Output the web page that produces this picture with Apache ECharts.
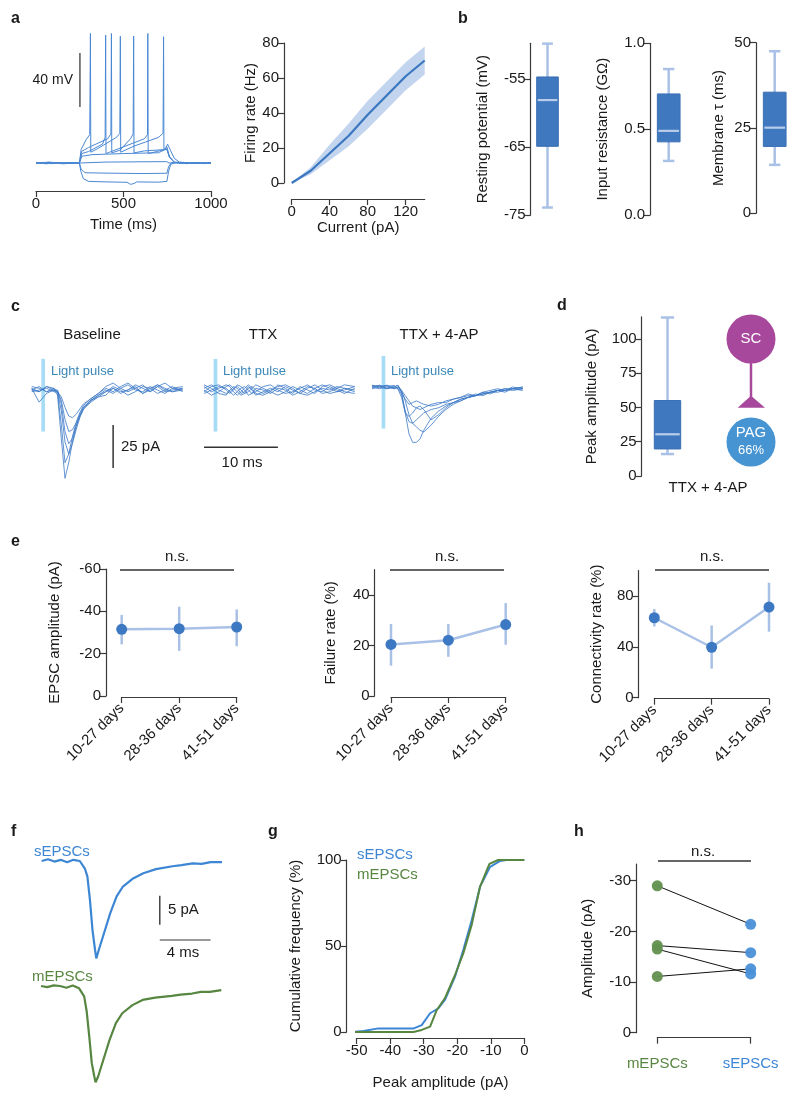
<!DOCTYPE html>
<html>
<head>
<meta charset="utf-8">
<script src="https://cdn.jsdelivr.net/npm/echarts@6/dist/echarts.min.js"></script>
<style>
  html, body { margin: 0; background: #fff; }
  #chart { width: 800px; height: 1105px; }
</style>
</head>
<body>
<div id="chart"></div>
<script>
// ---- panel a: example voltage traces [ms, mV]
const aTraceHyper2 = [[0,-64.6],[50,-65.4],[100,-64.5],[150,-65.6],[200,-64.8],[248,-65.2],[256,-71],[270,-76.5],[300,-78.6],[400,-79],[520,-79.3],[540,-80.8],[560,-80.2],[575,-79],[700,-79.2],[748,-78.6],[758,-71],[770,-66],[800,-64.6],[860,-65.5],[920,-64.7],[980,-65.4],[1000,-64.8]]
const aTraceHyper1 = [[0,-65.3],[40,-64.5],[90,-65.5],[140,-64.7],[190,-65.3],[248,-64.9],[258,-69.5],[280,-72.2],[400,-72.5],[600,-72.8],[748,-72.6],[758,-67.5],[775,-64.6],[830,-65.4],[900,-64.6],[960,-65.5],[1000,-64.9]]
const aTraceSub1 = [[0,-64.8],[60,-65.6],[110,-64.6],[170,-65.4],[248,-65],[258,-64],[400,-64.3],[600,-64.1],[748,-64],[760,-65],[840,-64.5],[910,-65.4],[1000,-65]]
const aTraceSub2 = [[0,-65.2],[70,-64.4],[130,-65.3],[200,-64.6],[248,-65],[262,-60],[320,-58.8],[500,-58],[700,-57.4],[738,-55],[752,-51],[768,-55.5],[790,-61.5],[820,-64.4],[900,-65.2],[1000,-64.7]]
const aTraceSpike1 = [[0,-65],[80,-64.4],[160,-65.5],[248,-65],[262,-58],[300,-56.5],[380,-51],[395,-46],[398,29.8],[400,-58],[420,-57],[520,-52],[620,-47],[637,-44],[639,31],[641,-58],[690,-56.5],[748,-54.5],[762,-60.5],[790,-64.3],[880,-65.4],[1000,-65]]
const aTraceSpike2 = [[0,-65.4],[90,-64.6],[170,-65.3],[248,-65],[258,-55],[285,-48],[307,-44],[311,31],[313,-57],[350,-54.5],[460,-46],[479,-43],[482,28.9],[484,-57],[560,-52.5],[700,-46],[726,-43],[729,28.6],[731,-55],[748,-53],[762,-60],[790,-64.5],[870,-64.7],[1000,-65.2]]
const aTraceSpike3 = [[0,-64.7],[100,-65.4],[190,-64.6],[248,-65],[260,-56.5],[300,-53.5],[410,-47],[428,-43.5],[431,31],[433,-57.5],[480,-55.5],[540,-47],[555,-43.5],[558,29.1],[560,-57.5],[620,-56],[748,-55],[762,-60.5],[790,-64.6],[900,-65.3],[1000,-64.8]]
const aScaleBar = [[251, 16.5], [251, -23.5]] // 40 mV

// panel a: firing rate vs current
const fiCurrent = [0, 20, 40, 60, 80, 100, 120, 140]
const fiMean = [0, 7, 17, 27, 39, 50, 61, 70]
const fiLow = [0, 5, 13, 21, 31, 42, 53, 62]
const fiHigh = [0, 9, 22, 34, 47, 58, 69, 78]

// panel b / d: [min, q1, median, q3, max]
const restingBox = [-73.9, -64.9, -58.1, -54.7, -49.8]
const inputResBox = [0.315, 0.426, 0.49, 0.705, 0.85]
const tauBox = [14.2, 19.6, 25.1, 35.5, 47.5]
const peakBox = [16, 19.7, 30.4, 55, 115.5]

// panel c: sweeps, pA, sampled at cTimes (ms)
const cTimes = [0, 1, 2, 3, 3.5, 4, 4.5, 5, 5.5, 6, 6.5, 7, 8, 9, 10, 11, 12, 13, 14, 15, 16, 17, 18, 19, 20.4]
const cBaseline = [
  [1, -1, 2, 0, -3, -28, -51, -42, -30, -21, -15, -11, -6, -3, -1, 1, -2, 0, 3, 1, -1, 2, -1, 0, 1],
  [0, 2, -1, 1, -2, -20, -42, -37, -27, -19, -13, -9, -5, -2, 1, -1, 2, 4, 1, -2, 0, 3, 1, -1, 0],
  [-1, 0, 1, -1, -1, -12, -30, -37, -31, -23, -16, -11, -7, -4, -1, 2, 0, -3, -1, 2, 1, -2, 0, 2, -1],
  [2, 1, -1, 0, 0, -8, -24, -31, -28, -21, -15, -10, -6, -3, 0, -2, 1, 3, 0, -1, 2, 0, -2, 1, 0],
  [0, -1, 2, 1, -1, -6, -17, -24, -23, -19, -14, -10, -6, -4, -3, 1, -1, 0, 2, -2, 1, 3, 0, -1, 1],
  [1, -7, -2, 0, -1, -4, -10, -15, -16, -14, -11, -8, -5, -2, 2, 4, 1, -1, 1, 3, -1, 2, 4, 1, 2]
]
const cTTX = [
  [1, 3, 0, -2, -1, 1, 2, 0, -2, -1, 1, 3, 1, -1, -3, -1, 2, 0, -2, 1, 3, 1, -1, 0, 2],
  [-2, 0, 2, 1, -1, -3, -1, 1, 2, 0, -2, -1, 2, 3, 0, -2, -1, 1, 3, 0, -1, 2, 0, -2, 1],
  [0, -3, -1, 2, 3, 1, -1, -3, -2, 1, 2, 0, -2, 0, 2, 3, 1, -2, -3, -1, 1, 0, 2, 1, -1],
  [3, 1, -2, -3, 0, 2, 1, -2, -1, 2, 0, -3, -1, 1, -1, 2, 0, -2, 1, 3, 0, -2, -1, 1, 0],
  [-1, 2, 3, 0, -2, 0, 3, 2, 0, -3, -2, 1, 0, -2, 1, 0, -3, -1, 2, 1, -2, -1, 1, 3, 2],
  [2, -1, 1, 3, 2, -1, -3, -1, 1, 3, 1, -2, -3, -1, 3, 1, -2, 2, 0, -2, 2, 3, 1, -1, -2]
]
const c4AP = [
  [0, 1, -1, 0, 1, -3, -15, -27, -32, -32, -30, -25, -18, -14, -11, -9, -7, -6, -4, -5, -3, -2, -3, -1, -2],
  [1, 0, 1, -1, 0, -2, -8, -16, -21, -23, -25, -26, -22, -17, -13, -10, -8, -6, -5, -3, -4, -2, -1, -2, -1],
  [0, -1, 0, 1, -1, -4, -14, -20, -21, -19, -17, -15, -13, -12, -10, -9, -8, -6, -5, -4, -3, -3, -2, -1, -1],
  [-1, 0, 1, 0, -1, -6, -15, -17, -15, -12, -11, -13, -19, -16, -12, -9, -7, -6, -5, -4, -3, -2, -2, -1, 0],
  [0, 1, 0, -1, 0, -3, -7, -10, -9, -8, -9, -10, -11, -10, -8, -7, -6, -5, -5, -4, -3, -2, -1, -1, 0],
  [1, 0, -1, 0, 1, -2, -5, -8, -11, -12, -13, -12, -10, -9, -9, -7, -6, -4, -5, -3, -2, -1, -2, 0, -1]
]
const cPulse = [1.3, 1.8, 18, -24] // t start, t end, top, bottom
const cAmpBar = [[11, -20.2], [11, -45.1]] // 25 pA
const cTimeBar = [[0, -33.1], [10, -33.1]] // 10 ms

// panel e
const ageGroups = ['10-27 days', '28-36 days', '41-51 days']
const epscMean = [-31.5, -31.8, -32.6]
const epscLow = [-24.4, -21.3, -23.5]
const epscHigh = [-38.3, -42.2, -40.9]
const failMean = [20.4, 22.1, 28.3]
const failLow = [12, 15.5, 20.3]
const failHigh = [28.5, 28.5, 36.8]
const connMean = [62.9, 39.7, 71.3]
const connLow = [56, 22.9, 52]
const connHigh = [69.7, 56.8, 90.5]

// panel f: averaged events (pA) at fTimes (ms)
const fTimes = [0, 0.5, 1, 1.5, 2, 2.5, 3, 3.4, 3.6, 3.8, 4.0, 4.2, 4.3, 4.5, 4.9, 5.4, 5.9, 6.4, 7.2, 8.0, 9.0, 10.3, 11.0, 11.9, 12.6, 13.3, 14.2]
const fSpont = [0, 0.3, -0.1, 0.2, -0.2, 0.2, 0, -1.3, -2.7, -6.7, -11.9, -15.3, -16.8, -15.3, -12.5, -9.0, -6.1, -4.4, -3.0, -2.1, -1.4, -0.9, -0.7, -0.4, -0.5, -0.2, -0.2]
const fMini = [0, -0.2, 0.1, 0, -0.3, 0.1, -0.4, -1.8, -4.4, -8.7, -13.3, -15.6, -16.6, -15.6, -12.8, -9.3, -6.4, -4.7, -3.3, -2.4, -2.0, -1.7, -1.5, -1.3, -1.0, -1.0, -0.7]
const fAmpBar = [[9.3, -6.0], [9.3, -11.0]] // 5 pA
const fTimeBar = [[9.3, -13.6], [13.3, -13.6]] // 4 ms

// panel g: cumulative distributions [pA, %]
const gSpont = [[-51, 0], [-48, 0.6], [-43.5, 2.1], [-33, 2.1], [-30.6, 4], [-28.1, 10.9], [-25.6, 13.8], [-23.7, 18.6], [-20.7, 32], [-18.2, 47.7], [-15.7, 65], [-13.2, 84.5], [-10.2, 96], [-7.3, 99.4], [-5.3, 100], [0, 100]]
const gMini = [[-51, 0], [-33.1, 0], [-30.6, 1.2], [-28.1, 3.1], [-26.1, 12.8], [-23.7, 19.6], [-20.7, 33], [-18.2, 45.7], [-15.7, 62.2], [-13.2, 84.5], [-10.4, 97.7], [-7.8, 100], [0, 100]]

// panel h: paired cells
const hGroups = ['mEPSCs', 'sEPSCs']
const hMini = [-29.0, -17.2, -16.5, -11.1]
const hSpont = [-21.4, -15.8, -11.6, -12.6]

const FONT = '"Liberation Sans", Arial, Helvetica, sans-serif'
const TXT = '#1a1a1a'
const AXC = '#3a3a3a'
const TRACE = '#4a88d4'
const CTRACE = '#3d79c6'
const BOX = '#3f78bf'
const LIGHT = '#a9c1e6'
const MEDIAN = '#b9cdea'
const BLUE = '#3c86d4'
const GREEN = '#578641'

const chart = echarts.init(document.getElementById('chart'))

const gridBoxes = [
  { left: 36, top: 21.3, width: 175, height: 169.7 },
  { left: 291.7, top: 43, width: 133, height: 140 },
  { left: 530.7, top: 43.3, width: 33.6, height: 171.7 },
  { left: 650, top: 43.3, width: 37.4, height: 171.7 },
  { left: 756, top: 42.7, width: 37.4, height: 170.6 },
  { left: 31.7, top: 348.5, width: 151, height: 138.4 },
  { left: 204, top: 348.5, width: 153, height: 138.4 },
  { left: 372, top: 345.5, width: 153, height: 138.4 },
  { left: 641.7, top: 316.8, width: 51.6, height: 159.2 },
  { left: 121.7, top: 569, width: 115, height: 127 },
  { left: 391, top: 569.7, width: 114.7, height: 126.3 },
  { left: 654.3, top: 570.6, width: 114.7, height: 127.1 },
  { left: 41.7, top: 849.4, width: 180.3, height: 127.6 },
  { left: 41, top: 974.4, width: 180.3, height: 127.6 },
  { left: 356.7, top: 860, width: 167.6, height: 172 },
  { left: 657.3, top: 864, width: 93.4, height: 168.7 }
]
const grids = gridBoxes.map(g => Object.assign({ containLabel: false, outerBoundsMode: 'none' }, g))

function valAxis(grid, min, max, ticks, extra) {
  return Object.assign({
    type: 'value', gridIndex: grid, min: min, max: max,
    nameLocation: 'middle',
    nameTextStyle: { fontSize: 15, color: TXT, fontFamily: FONT },
    axisLine: { show: true, onZero: false, lineStyle: { color: AXC, width: 1.2 } },
    axisTick: { show: true, length: 6, lineStyle: { color: AXC, width: 1.2 }, customValues: ticks },
    axisLabel: { fontSize: 15, color: TXT, fontFamily: FONT, margin: 5, customValues: ticks, formatter: v => String(v) },
    splitLine: { show: false }
  }, extra || {})
}
function hidden(type, grid, min, max) {
  const a = { type: type, gridIndex: grid, show: false, axisLine: { onZero: false }, splitLine: { show: false } }
  if (type === 'category') a.data = ['x']
  else { a.min = min; a.max = max }
  return a
}
function catAxis(grid, cats, extra) {
  return Object.assign({
    type: 'category', gridIndex: grid, data: cats, boundaryGap: false,
    axisLine: { show: true, onZero: false, lineStyle: { color: AXC, width: 1.2 } },
    axisTick: { show: true, length: 6, lineStyle: { color: AXC, width: 1.2 } },
    axisLabel: { fontSize: 15, color: TXT, fontFamily: FONT, interval: 0 },
    splitLine: { show: false }
  }, extra || {})
}
const rotLabel = { fontSize: 15, color: TXT, fontFamily: FONT, interval: 0, rotate: 45, margin: 9 }

const xAxes = [
  valAxis(0, 0, 1000, [0, 500, 1000], { name: 'Time (ms)', nameGap: 26 }),
  valAxis(1, 0, 140, [0, 40, 80, 120], { name: 'Current (pA)', nameGap: 16, offset: 16 }),
  hidden('category', 2), hidden('category', 3), hidden('category', 4),
  hidden('value', 5, 0, 20.4), hidden('value', 6, 0, 20.7), hidden('value', 7, 0, 20.7),
  hidden('category', 8),
  catAxis(9, ageGroups, { offset: 1, axisLabel: rotLabel }),
  catAxis(10, ageGroups, { offset: 1, axisLabel: rotLabel }),
  catAxis(11, ageGroups, { offset: 1, axisLabel: rotLabel }),
  hidden('value', 12, 0, 14.2), hidden('value', 13, 0, 14.2),
  valAxis(14, -50, 0, [-50, -40, -30, -20, -10, 0], { name: 'Peak amplitude (pA)', nameGap: 37, offset: 6 }),
  catAxis(15, hGroups, { offset: 5, axisLabel: { fontSize: 15, fontFamily: FONT, interval: 0, margin: 19, color: v => (v === 'mEPSCs' ? GREEN : BLUE) } })
]

const yAxes = [
  hidden('value', 0, -85.74, 40),
  valAxis(1, 0, 80, [0, 20, 40, 60, 80], { name: 'Firing rate (Hz)', nameGap: 23, offset: 7.7 }),
  valAxis(2, -75, -49.75, [-75, -65, -55], { name: 'Resting potential (mV)', nameGap: 40 }),
  valAxis(3, 0, 1, [0, 0.5, 1], { name: 'Input resistance (G\u03a9)', nameGap: 40 }),
  valAxis(4, 0, 50, [0, 25, 50], { name: 'Membrane \u03c4 (ms)', nameGap: 30 }),
  hidden('value', 5, -56, 24), hidden('value', 6, -56, 24), hidden('value', 7, -56, 24),
  valAxis(8, 0, 116, [0, 25, 50, 75, 100], { name: 'Peak amplitude (pA)', nameGap: 42 }),
  valAxis(9, -60, 0, [-60, -40, -20, 0], { name: 'EPSC amplitude (pA)', nameGap: 44, offset: 15.7, inverse: true }),
  valAxis(10, 0, 50, [0, 20, 40], { name: 'Failure rate (%)', nameGap: 36, offset: 16.3 }),
  valAxis(11, 0, 100, [0, 40, 80], { name: 'Connectivity rate (%)', nameGap: 34, offset: 15.6 }),
  hidden('value', 12, -20, 2), hidden('value', 13, -20, 2),
  valAxis(14, 0, 100, [0, 50, 100], { name: 'Cumulative frequency (%)', nameGap: 43, offset: 10 }),
  valAxis(15, -33.3, 0, [-30, -20, -10, 0], { name: 'Amplitude (pA)', nameGap: 41, offset: 21.3, inverse: true })
]
yAxes[3].axisLabel.formatter = v => v.toFixed(1)

const series = []
function trace(ax, data, color, width, extra) {
  series.push(Object.assign({
    type: 'line', xAxisIndex: ax, yAxisIndex: ax, data: data, symbol: 'none', silent: true,
    lineStyle: { color: color, width: width }, z: 2
  }, extra || {}))
}

// a: voltage traces
;[aTraceHyper2, aTraceHyper1, aTraceSub1, aTraceSub2, aTraceSpike1, aTraceSpike2, aTraceSpike3]
  .forEach(d => trace(0, d, TRACE, 1))
trace(0, aScaleBar, '#555', 1.5)

// a: F-I curve with shaded band (polygon through the axis scales)
series.push({
  type: 'custom', xAxisIndex: 1, yAxisIndex: 1, silent: true, z: 1,
  data: [[0, 0]],
  renderItem: function (params, api) {
    const upper = fiCurrent.map((c, i) => api.coord([c, fiHigh[i]]))
    const lower = fiCurrent.map((c, i) => api.coord([c, fiLow[i]])).reverse()
    return { type: 'polygon', shape: { points: upper.concat(lower) }, style: { fill: '#c3d5ee' } }
  }
})
trace(1, fiCurrent.map((c, i) => [c, fiMean[i]]), '#3a77c0', 2.2, { z: 3 })

// b, d: box plots
function boxRenderer(boxW, capW) {
  return function (params, api) {
    const c = api.value(0)
    const lo = api.coord([c, api.value(1)])
    const q1 = api.coord([c, api.value(2)])
    const md = api.coord([c, api.value(3)])
    const q3 = api.coord([c, api.value(4)])
    const hi = api.coord([c, api.value(5)])
    const x = lo[0]
    const ls = { stroke: LIGHT, lineWidth: 2.5 }
    return {
      type: 'group',
      children: [
        { type: 'line', shape: { x1: x, y1: lo[1], x2: x, y2: hi[1] }, style: ls },
        { type: 'line', shape: { x1: x - capW / 2, y1: lo[1], x2: x + capW / 2, y2: lo[1] }, style: ls },
        { type: 'line', shape: { x1: x - capW / 2, y1: hi[1], x2: x + capW / 2, y2: hi[1] }, style: ls },
        { type: 'rect', shape: { x: x - boxW / 2, y: q3[1], width: boxW, height: q1[1] - q3[1] },
          style: { fill: BOX, stroke: '#3a6fb3', lineWidth: 1 } },
        { type: 'line', shape: { x1: x - boxW / 2 + 1, y1: md[1], x2: x + boxW / 2 - 1, y2: md[1] },
          style: { stroke: MEDIAN, lineWidth: 2.2 } }
      ]
    }
  }
}
;[[2, restingBox, 21.6], [3, inputResBox, 22.7], [4, tauBox, 22.7], [8, peakBox, 26.4]].forEach(b => {
  series.push({
    type: 'custom', xAxisIndex: b[0], yAxisIndex: b[0], silent: true,
    renderItem: boxRenderer(b[2], b[2] * 0.5),
    encode: { x: 0, y: [1, 2, 3, 4, 5] },
    data: [[0].concat(b[1])]
  })
})

// c: sweeps
function sweeps(ax, set) {
  set.forEach((vals, k) => {
    const extra = { lineStyle: { color: CTRACE, width: 0.9, opacity: 0.9 } }
    if (k === 0) {
      extra.markArea = {
        silent: true, itemStyle: { color: '#a6dcf5', opacity: 1 },
        data: [[{ xAxis: cPulse[0], yAxis: cPulse[2] }, { xAxis: cPulse[1], yAxis: cPulse[3] }]]
      }
    }
    trace(ax, cTimes.map((t, i) => [t, vals[i]]), CTRACE, 0.9, extra)
  })
}
sweeps(5, cBaseline)
sweeps(6, cTTX)
sweeps(7, c4AP)
trace(5, cAmpBar, '#333', 1.5)
trace(6, cTimeBar, '#333', 1.5)

// e: mean +- error per age group
function errRenderer(params, api) {
  const a = api.coord([api.value(0), api.value(1)])
  const b = api.coord([api.value(0), api.value(2)])
  return { type: 'line', shape: { x1: a[0], y1: a[1], x2: b[0], y2: b[1] }, style: { stroke: LIGHT, lineWidth: 2.5 } }
}
;[[9, epscMean, epscLow, epscHigh], [10, failMean, failLow, failHigh], [11, connMean, connLow, connHigh]].forEach(p => {
  const ax = p[0]
  series.push({ type: 'line', xAxisIndex: ax, yAxisIndex: ax, data: p[1], symbol: 'none', silent: true,
    lineStyle: { color: LIGHT, width: 2.5 }, z: 2 })
  series.push({ type: 'custom', xAxisIndex: ax, yAxisIndex: ax, silent: true, renderItem: errRenderer,
    encode: { x: 0, y: [1, 2] }, data: p[1].map((_, i) => [i, p[2][i], p[3][i]]), z: 3 })
  series.push({ type: 'scatter', xAxisIndex: ax, yAxisIndex: ax, data: p[1], symbolSize: 11, silent: true,
    itemStyle: { color: '#3d78c3', opacity: 1 }, z: 4 })
})

// f: averaged events
trace(12, fTimes.map((t, i) => [t, fSpont[i]]), BLUE, 2.2)
trace(13, fTimes.map((t, i) => [t, fMini[i]]), GREEN, 2.2)
trace(12, fAmpBar, '#444', 1.5)
trace(12, fTimeBar, '#777', 1.5)

// g: cumulative
trace(14, gSpont, BLUE, 2, { clip: false })
trace(14, gMini, GREEN, 2, { clip: false })

// h: pairs
hMini.forEach((m, i) => {
  series.push({
    type: 'line', xAxisIndex: 15, yAxisIndex: 15, silent: true, symbol: 'circle', symbolSize: 11,
    lineStyle: { color: '#111', width: 1 },
    data: [{ value: [0, m], itemStyle: { color: '#62914f', opacity: 0.95 } },
           { value: [1, hSpont[i]], itemStyle: { color: '#4a90d8', opacity: 0.95 } }],
    z: 3
  })
})

// text and annotations
function txt(x, y, s, o) {
  o = o || {}
  return {
    type: 'text', x: x, y: y, silent: true, z: 100,
    style: {
      text: s, fill: o.fill || TXT,
      font: (o.bold ? 'bold ' : '') + (o.size || 15) + 'px ' + FONT,
      align: o.align || 'left', textAlign: o.align || 'left',
      verticalAlign: 'middle', textVerticalAlign: 'middle'
    }
  }
}
function hline(x1, x2, y, color, w) {
  return { type: 'line', silent: true, z: 100, shape: { x1: x1, y1: y, x2: x2, y2: y }, style: { stroke: color || '#333', lineWidth: w || 1.3 } }
}
const graphic = [
  txt(11, 19, 'a', { bold: true, size: 16 }),
  txt(458, 19, 'b', { bold: true, size: 16 }),
  txt(11, 307, 'c', { bold: true, size: 16 }),
  txt(557, 306, 'd', { bold: true, size: 16 }),
  txt(11, 542, 'e', { bold: true, size: 16 }),
  txt(11, 832, 'f', { bold: true, size: 16 }),
  txt(268, 832, 'g', { bold: true, size: 16 }),
  txt(574, 832, 'h', { bold: true, size: 16 }),
  txt(73, 80, '40 mV', { align: 'right', size: 14 }),
  txt(92, 335, 'Baseline', { align: 'center' }),
  txt(263, 335, 'TTX', { align: 'center' }),
  txt(439, 335, 'TTX + 4-AP', { align: 'center' }),
  txt(51, 371, 'Light pulse', { fill: '#3a87b8', size: 13 }),
  txt(223, 371, 'Light pulse', { fill: '#3a87b8', size: 13 }),
  txt(391, 371, 'Light pulse', { fill: '#3a87b8', size: 13 }),
  txt(121, 447, '25 pA'),
  txt(242, 463, '10 ms', { align: 'center' }),
  txt(708, 488, 'TTX + 4-AP', { align: 'center' }),
  txt(177, 557, 'n.s.', { align: 'center' }),
  txt(447, 557, 'n.s.', { align: 'center' }),
  txt(712, 557, 'n.s.', { align: 'center' }),
  hline(120, 234, 570), hline(390, 504, 570), hline(655, 769, 570),
  txt(34, 852, 'sEPSCs', { fill: BLUE }),
  txt(32, 977, 'mEPSCs', { fill: GREEN }),
  txt(168, 910, '5 pA'),
  txt(183, 953, '4 ms', { align: 'center' }),
  txt(357, 855, 'sEPSCs', { fill: BLUE }),
  txt(357, 875, 'mEPSCs', { fill: GREEN }),
  txt(703, 852, 'n.s.', { align: 'center' }),
  hline(658, 751, 861),
  // d: SC -> PAG diagram
  { type: 'circle', silent: true, shape: { cx: 751, cy: 339, r: 24.5 }, style: { fill: '#a8489c' } },
  { type: 'line', silent: true, shape: { x1: 751, y1: 362, x2: 751, y2: 398 }, style: { stroke: '#a8489c', lineWidth: 2.5 } },
  { type: 'polygon', silent: true, shape: { points: [[751, 395.7], [737.7, 407.7], [765, 407.7]] }, style: { fill: '#a8489c' } },
  { type: 'circle', silent: true, shape: { cx: 751, cy: 442, r: 24.5 }, style: { fill: '#4694d2' } },
  txt(751, 339, 'SC', { align: 'center', fill: '#fff' }),
  txt(751, 433, 'PAG', { align: 'center', fill: '#fff' }),
  txt(751, 450, '66%', { align: 'center', fill: '#fff', size: 13 })
]

chart.setOption({
  animation: false,
  backgroundColor: '#fff',
  textStyle: { fontFamily: FONT },
  grid: grids,
  xAxis: xAxes,
  yAxis: yAxes,
  series: series,
  graphic: graphic
})
</script>
</body>
</html>
